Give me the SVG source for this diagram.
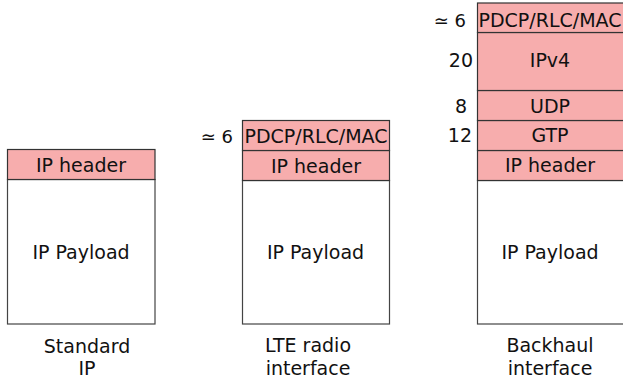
<svg xmlns="http://www.w3.org/2000/svg" width="623" height="381" viewBox="0 0 623 381">
<style>
.hdr{fill:#F7ADAD;stroke:#333;stroke-width:1.2}
.pay{fill:#fff;stroke:#444;stroke-width:1.2}
text{font-family:"DejaVu Sans",Verdana,sans-serif;font-size:19px;fill:#111}
.c{text-anchor:middle}
.e{text-anchor:end}
.n{font-size:18px}
</style>
<rect width="623" height="381" fill="#fff"/>
<g id="standard-ip">
<rect class="pay" x="7.5" y="179.5" width="147.5" height="144.5"/>
<rect class="hdr" x="7.5" y="149.5" width="147.5" height="30"/>
<text class="c" x="81" y="172">IP header</text>
<text class="c" x="81" y="259">IP Payload</text>
<text class="c" x="87" y="353">Standard</text>
<text class="c" x="87" y="375">IP</text>
</g>
<g id="lte-radio">
<rect class="pay" x="242.5" y="180.5" width="147" height="143.5"/>
<rect class="hdr" x="242.5" y="150.5" width="147" height="30"/>
<rect class="hdr" x="242.5" y="120.5" width="147" height="30"/>
<text class="c" x="316" y="142.5">PDCP/RLC/MAC</text>
<text class="c" x="316" y="172.5">IP header</text>
<text class="c" x="315.5" y="259">IP Payload</text>
<text class="e n" x="233" y="142.5">≃ 6</text>
<text class="c" x="308" y="352">LTE radio</text>
<text class="c" x="308" y="375">interface</text>
</g>
<g id="backhaul">
<rect class="pay" x="477.5" y="180.5" width="150" height="143.5"/>
<rect class="hdr" x="477.5" y="150.5" width="150" height="30"/>
<rect class="hdr" x="477.5" y="120.5" width="150" height="30"/>
<rect class="hdr" x="477.5" y="90.5" width="150" height="30"/>
<rect class="hdr" x="477.5" y="32.5" width="150" height="58"/>
<rect class="hdr" x="477.5" y="3" width="150" height="29.5"/>
<text class="c" x="550" y="26.5">PDCP/RLC/MAC</text>
<text class="c" x="550" y="67">IPv4</text>
<text class="c" x="550" y="112.5">UDP</text>
<text class="c" x="550" y="142">GTP</text>
<text class="c" x="550" y="172">IP header</text>
<text class="c" x="550" y="259">IP Payload</text>
<text class="e n" x="466" y="27">≃ 6</text>
<text class="e" x="473" y="67">20</text>
<text class="c" x="461" y="113">8</text>
<text class="e" x="472" y="142">12</text>
<text class="c" x="550" y="352">Backhaul</text>
<text class="c" x="550" y="375">interface</text>
</g>
<g id="connectors"></g>
</svg>
